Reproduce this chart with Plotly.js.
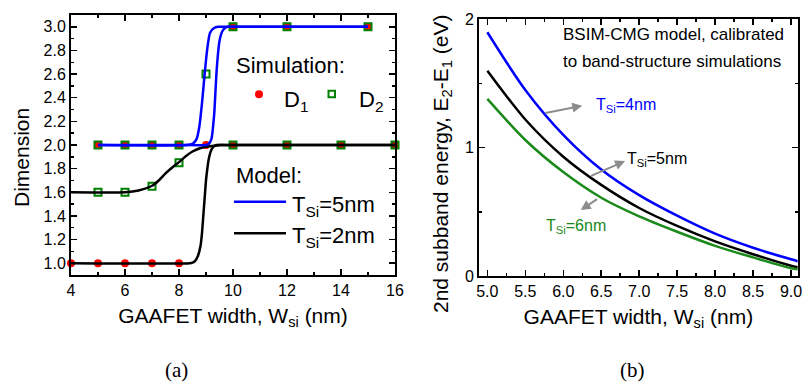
<!DOCTYPE html>
<html>
<head>
<meta charset="utf-8">
<script src="https://cdn.plot.ly/plotly-3.0.1.min.js"></script>
<style>html,body{margin:0;padding:0;background:#fff;}#chart{width:810px;height:387px;}</style>
</head>
<body>
<div id="chart"></div>
<script>
// ---------- Panel (a): simulation points ----------
const simT5X   = [5, 6, 7, 8, 9, 10, 12, 15];
const simT5D1  = [2, 2, 2, 2, 2, 3, 3, 3];
const simT5D2  = [2, 2, 2, 2, 2.6, 3, 3, 3];
const simT2D1X = [4, 5, 6, 7, 8, 10, 12, 14, 16];
const simT2D1  = [1, 1, 1, 1, 1, 2, 2, 2, 2];
const simT2D2X = [5, 6, 7, 8, 10, 12, 14, 16];
const simT2D2  = [1.6, 1.6, 1.65, 1.85, 2, 2, 2, 2];

// ---------- Panel (a): model curves ----------
const modT5D1X = [5, 8.0, 9.0, 9.1, 9.2, 9.3, 9.35, 9.4, 9.5, 9.6, 9.7, 9.8, 10, 15];
const modT5D1Y = [2, 2, 2.0, 2.01, 2.05, 2.25, 2.45, 2.65, 2.88, 2.96, 2.99, 3, 3, 3];
const modT5D2X = [5, 8.3, 8.5, 8.65, 8.75, 8.85, 8.95, 9.05, 9.15, 9.3, 9.45, 10, 15];
const modT5D2Y = [2, 2, 2.01, 2.05, 2.15, 2.35, 2.6, 2.82, 2.95, 2.99, 3, 3, 3];
const modT2D1X = [4, 8.4, 8.5, 8.6, 8.7, 8.8, 8.85, 8.9, 8.95, 9.0, 9.05, 9.1, 9.2, 9.3, 9.4, 10, 16];
const modT2D1Y = [1, 1, 1.005, 1.02, 1.06, 1.15, 1.25, 1.4, 1.55, 1.7, 1.8, 1.88, 1.96, 1.99, 2, 2, 2];
const modT2D2X = [4, 6, 6.5, 7.0, 7.25, 7.5, 7.75, 8.0, 8.25, 8.5, 8.75, 9.0, 9.5, 10, 16];
const modT2D2Y = [1.6, 1.6, 1.615, 1.655, 1.70, 1.76, 1.81, 1.855, 1.905, 1.945, 1.97, 1.985, 1.998, 2, 2];

// ---------- Panel (b): subband energy ----------
const wsi   = [5.0, 5.5, 6.0, 6.5, 7.0, 7.5, 8.0, 8.5, 9.0, 9.09];
const eT4nm = [1.90, 1.45, 1.10, 0.83, 0.63, 0.47, 0.33, 0.22, 0.13, 0.115];
const eT5nm = [1.60, 1.22, 0.93, 0.71, 0.53, 0.39, 0.27, 0.17, 0.08, 0.068];
const eT6nm = [1.38, 1.06, 0.81, 0.61, 0.465, 0.345, 0.235, 0.145, 0.06, 0.052];

const FONT = 'Liberation Sans, Arial, sans-serif';
const BLUE = '#0000ff', RED = '#ff0000', GREEN = '#008000', GREEN2 = '#1a8a1a';

const lineA = (x, y, c) => ({x, y, xaxis:'x', yaxis:'y', mode:'lines', type:'scatter',
  line:{color:c, width:2.5, shape:'spline', smoothing:0.6}, hoverinfo:'skip', showlegend:false});
const lineB = (x, y, c) => ({x, y, xaxis:'x2', yaxis:'y2', mode:'lines', type:'scatter',
  line:{color:c, width:2.5, shape:'spline', smoothing:0.8}, hoverinfo:'skip', showlegend:false});
const d1 = (x, y) => ({x, y, xaxis:'x', yaxis:'y', mode:'markers', type:'scatter', cliponaxis:false,
  marker:{symbol:'circle', size:8, color:RED}, showlegend:false});
const d2 = (x, y) => ({x, y, xaxis:'x', yaxis:'y', mode:'markers', type:'scatter', cliponaxis:false,
  marker:{symbol:'square-open', size:7, color:GREEN, line:{width:2, color:GREEN}}, showlegend:false});

const data = [
  d1(simT5X, simT5D1), d1(simT2D1X, simT2D1),
  d2(simT5X, simT5D2), d2(simT2D2X, simT2D2),
  lineA(modT2D2X, modT2D2Y, '#000'), lineA(modT2D1X, modT2D1Y, '#000'),
  lineA(modT5D1X, modT5D1Y, BLUE), lineA(modT5D2X, modT5D2Y, BLUE),
  lineB(wsi, eT4nm, BLUE), lineB(wsi, eT5nm, '#000'), lineB(wsi, eT6nm, GREEN2)
];

const W = 810, H = 387;
const px = v => v / W, py = v => 1 - v / H;

const axisCommon = {
  showgrid:false, zeroline:false, showline:true, linecolor:'#000', linewidth:2,
  mirror:'allticks', ticks:'inside', ticklen:6, tickwidth:1.5, tickcolor:'#000',
  tickfont:{family:FONT, size:16, color:'#000'}
};

const txt = (text, x, y, size, color, extra) => Object.assign({
  text, x:px(x), y:py(y), xref:'paper', yref:'paper', showarrow:false,
  xanchor:'left', yanchor:'middle', font:{family:FONT, size, color:color || '#000'}
}, extra || {});

const arrow = (hx, hy, tx, ty) => ({
  text:' ', x:hx, y:hy, ax:tx, ay:ty, xref:'x2', yref:'y2', axref:'x2', ayref:'y2',
  showarrow:true, arrowhead:2, arrowsize:1, arrowwidth:2, arrowcolor:'#8c8c8c',
  standoff:0, startstandoff:0, font:{size:2}
});

const layout = {
  width:W, height:H, margin:{l:0, r:0, t:0, b:0},
  paper_bgcolor:'#fff', plot_bgcolor:'#fff', showlegend:false,
  xaxis: Object.assign({}, axisCommon, {
    domain:[px(71), px(395)], range:[4, 16], tick0:4, dtick:2,
    minor:{dtick:1, ticks:'inside', ticklen:3, tickwidth:1.5, tickcolor:'#000'},
    title:{text:'GAAFET width, W<sub>si</sub> (nm)', font:{family:FONT, size:21, color:'#000'}, standoff:10}
  }),
  yaxis: Object.assign({}, axisCommon, {
    domain:[py(275), py(15)], range:[0.9, 3.1], tick0:0, dtick:0.2, tickformat:'.1f',
    minor:{dtick:0.1, ticks:'inside', ticklen:3, tickwidth:1.5, tickcolor:'#000'}
  }),
  xaxis2: Object.assign({}, axisCommon, {
    anchor:'y2', domain:[px(479), px(797.7)], range:[4.89, 9.088], tick0:5, dtick:0.5, tickformat:'.1f',
    minor:{dtick:0.25, ticks:'inside', ticklen:3, tickwidth:1.5, tickcolor:'#000'},
    title:{text:'GAAFET width, W<sub>si</sub> (nm)', font:{family:FONT, size:21, color:'#000'}, standoff:10}
  }),
  yaxis2: Object.assign({}, axisCommon, {
    anchor:'x2', domain:[py(276), py(19.4)], range:[0, 2], tick0:0, dtick:1,
    minor:{dtick:0.5, ticks:'inside', ticklen:3, tickwidth:1.5, tickcolor:'#000'}
  }),
  shapes: [
    {type:'circle', xref:'paper', yref:'paper', x0:px(255), x1:px(263), y0:py(98.3), y1:py(90.3),
     fillcolor:RED, line:{width:0}},
    {type:'rect', xref:'paper', yref:'paper', x0:px(328.5), x1:px(335), y0:py(97.3), y1:py(90.8),
     fillcolor:'#fff', line:{width:2, color:GREEN}},
    {type:'line', xref:'paper', yref:'paper', x0:px(234), x1:px(286), y0:py(201.7), y1:py(201.7),
     line:{color:BLUE, width:2.5}},
    {type:'line', xref:'paper', yref:'paper', x0:px(234), x1:px(286), y0:py(233.3), y1:py(233.3),
     line:{color:'#000', width:2.5}}
  ],
  annotations: [
    txt('Dimension', 21, 158, 21, '#000', {textangle:-90, xanchor:'center'}),
    txt('2nd subband energy, E<sub>2</sub>-E<sub>1</sub> (eV)', 442, 164, 21, '#000', {textangle:-90, xanchor:'center'}),
    txt('Simulation:', 234, 66, 22),
    txt('D<sub>1</sub>', 282, 101, 22),
    txt('D<sub>2</sub>', 356.5, 101, 22),
    txt('Model:', 234, 175, 22),
    txt('T<sub>Si</sub>=5nm', 290, 206, 22),
    txt('T<sub>Si</sub>=2nm', 290, 237, 22),
    txt('BSIM-CMG model, calibrated', 561, 34, 17),
    txt('to band-structure simulations', 561, 62, 17),
    txt('T<sub>Si</sub>=4nm', 594, 105, 16, BLUE),
    txt('T<sub>Si</sub>=5nm', 625, 160, 16, '#000'),
    txt('T<sub>Si</sub>=6nm', 544, 226, 16, GREEN2),
    arrow(6.25, 1.327, 5.738, 1.268),
    arrow(6.814, 0.896, 6.34, 0.774),
    arrow(6.23, 0.514, 6.472, 0.610),
    txt('(a)', 176, 370, 21, '#000', {xanchor:'center', font:{family:'Liberation Serif, Times New Roman, serif', size:21, color:'#000'}}),
    txt('(b)', 632, 370, 21, '#000', {xanchor:'center', font:{family:'Liberation Serif, Times New Roman, serif', size:21, color:'#000'}})
  ]
};

Plotly.newPlot('chart', data, layout, {staticPlot:true, displayModeBar:false});
</script>
</body>
</html>
